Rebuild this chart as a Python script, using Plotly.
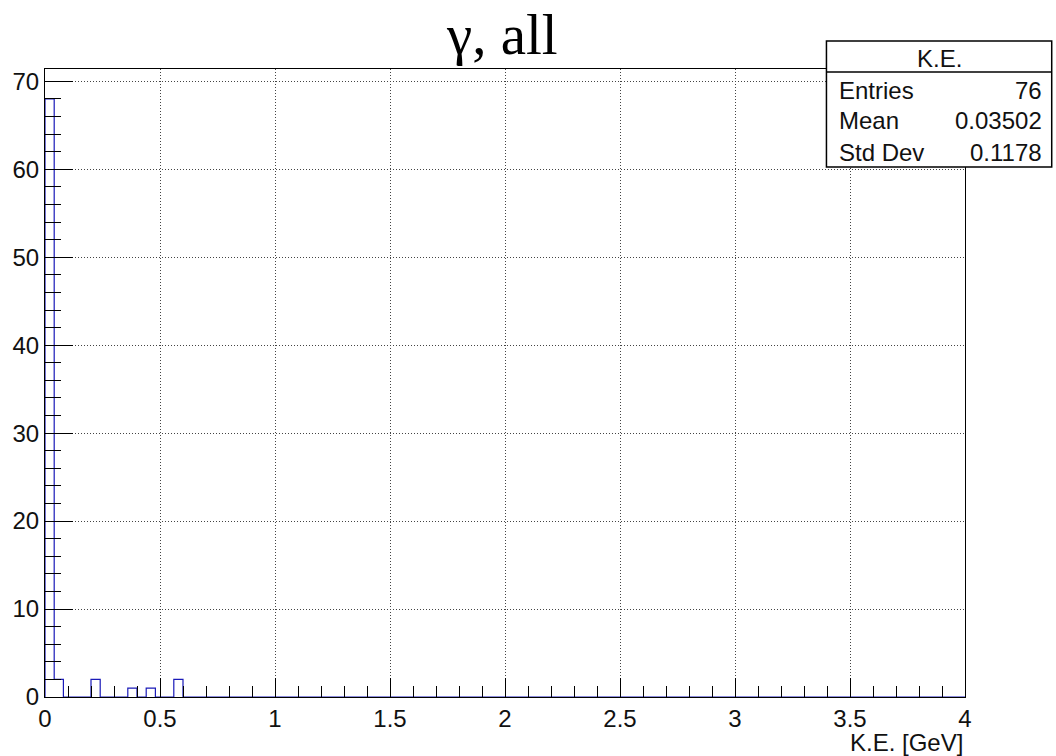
import plotly.graph_objects as go

# Histogram: 100 bins from 0 to 4 GeV
bin_low = 0.0
bin_high = 4.0
n_bins = 100
counts = [68, 2, 0, 0, 0, 2, 0, 0, 0, 1, 0, 1, 0, 0, 2] + [0] * (100 - 15)

stats_title = "K.E."
stats_labels = ["Entries", "Mean", "Std Dev"]
stats_values = ["76", "0.03502", "0.1178"]

x_ticks = [0, 0.5, 1, 1.5, 2, 2.5, 3, 3.5, 4]
x_ticklabels = ["0", "0.5", "1", "1.5", "2", "2.5", "3", "3.5", "4"]
y_ticks = [0, 10, 20, 30, 40, 50, 60, 70]

width = (bin_high - bin_low) / n_bins
edges = [bin_low + i * width for i in range(n_bins + 1)]
xs = [edges[0]] + edges[:-1] + [edges[-1]]
ys = [0] + counts + [counts[-1]]

fig = go.Figure()
fig.add_trace(go.Scatter(x=xs, y=ys, mode="lines", line=dict(shape="hv", color="#1a1ab8", width=1.2),
                         hoverinfo="skip", showlegend=False))

axis_font = dict(family="Liberation Sans, Arial, sans-serif", size=24, color="#111111")

fig.update_layout(
    width=1056, height=756,
    margin=dict(l=42, r=91, t=69, b=59),
    paper_bgcolor="white", plot_bgcolor="white",
    showlegend=False,
    xaxis=dict(range=[0, 4], tickvals=x_ticks, ticktext=x_ticklabels, ticks="inside", ticklen=19,
               tickcolor="black", tickwidth=1, showline=True, linecolor="black", linewidth=1, mirror=True,
               showgrid=True, gridcolor="#444444", griddash="1px,2px", gridwidth=1, zeroline=False,
               tickfont=axis_font, ticklabelstandoff=0,
               minor=dict(dtick=0.1, ticks="inside", ticklen=11, tickcolor="black", showgrid=False)),
    yaxis=dict(range=[0, 71.4], tickvals=y_ticks, ticks="inside", ticklen=28,
               tickcolor="black", tickwidth=1, showline=True, linecolor="black", linewidth=1, mirror=True,
               showgrid=True, gridcolor="#444444", griddash="1px,2px", gridwidth=1, zeroline=False,
               tickfont=axis_font, ticklabelstandoff=0,
               minor=dict(dtick=2, ticks="inside", ticklen=16, tickcolor="black", showgrid=False)),
)

def fx(p):
    return (p - 42) / 923
def fy(p):
    return (697 - p) / 628

# Title
fig.add_annotation(text="γ, all", xref="paper", yref="paper", x=fx(500), y=fy(35), xanchor="center",
                   yanchor="middle", showarrow=False, borderpad=0,
                   font=dict(family="Liberation Serif, Times New Roman, serif", size=57, color="black"))

# X axis title
fig.add_annotation(text="K.E. [GeV]", xref="paper", yref="paper", x=1, y=fy(742), xanchor="right",
                   yanchor="middle", showarrow=False, font=axis_font)

# Stats box
px0, px1 = 826, 1052
py_top, py_head, py_bot = 41, 72, 167

fig.add_shape(type="rect", xref="paper", yref="paper", x0=fx(px0), x1=fx(px1), y0=fy(py_bot), y1=fy(py_top),
              line=dict(color="black", width=1.5), fillcolor="white", layer="above")
fig.add_shape(type="line", xref="paper", yref="paper", x0=fx(px0), x1=fx(px1), y0=fy(py_head), y1=fy(py_head),
              line=dict(color="black", width=1.5), layer="above")
stats_font = dict(family="Liberation Sans, Arial, sans-serif", size=24, color="#111111")
fig.add_annotation(text=stats_title, xref="paper", yref="paper", x=fx((px0 + px1) / 2), y=fy(58),
                   xanchor="center", yanchor="middle", showarrow=False, font=stats_font)
row_y = [90, 121, 152]
for lab, val, ry in zip(stats_labels, stats_values, row_y):
    fig.add_annotation(text=lab, xref="paper", yref="paper", x=fx(837), y=fy(ry), xanchor="left",
                       yanchor="middle", showarrow=False, font=stats_font)
    fig.add_annotation(text=val, xref="paper", yref="paper", x=fx(1044), y=fy(ry), xanchor="right",
                       yanchor="middle", showarrow=False, font=stats_font)

fig.write_html("out.html", config={"displayModeBar": False},
               post_script="document.body.style.margin='0px';")
